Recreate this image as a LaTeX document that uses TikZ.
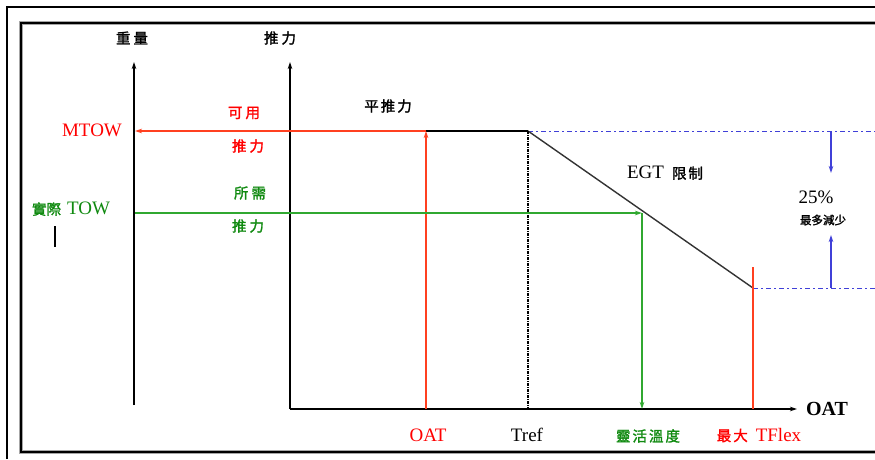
\documentclass[tikz,border=0pt]{standalone}
\usepackage{fontspec}
\setmainfont{Liberation Serif}
\newfontfamily\cjk[FakeBold=1.5]{Noto Sans CJK TC}
\usetikzlibrary{arrows.meta}
\definecolor{rdline}{HTML}{FF4020}
\definecolor{rdtext}{HTML}{FF0000}
\definecolor{gnline}{HTML}{30A830}
\definecolor{gntext}{HTML}{108A10}
\definecolor{blline}{HTML}{4040D8}
\begin{document}
\begin{tikzpicture}[x=1pt,y=-1pt,
  tip/.style={-{Stealth[length=7pt,width=4.5pt]}},
  axisline/.style={black,line width=1.2pt},
  redline/.style={rdline,line width=1.2pt},
  greenline/.style={gnline,line width=1.3pt},
  blueline/.style={blline,line width=1pt,dash pattern=on 5pt off 3pt on 2pt off 3pt},
  lat/.style={font=\fontsize{19}{22}\selectfont,inner sep=0pt},
  cjkl/.style={font=\cjk\fontsize{14.5}{16}\selectfont,inner sep=0pt},
  cjks/.style={font=\cjk\fontsize{11.5}{13}\selectfont,inner sep=0pt}]
\useasboundingbox (0,0) rectangle (875,459);
\fill[white] (0,0) rectangle (875,459);
% frames
\draw[black,line width=2pt] (7,459) -- (7,7) -- (875,7);
\draw[gray!70,line width=4pt] (875,23) -- (21,23) -- (21,452) -- (875,452);
\draw[black,line width=2.4pt] (875,23) -- (21,23) -- (21,452) -- (875,452);
% coordinates
\coordinate (wb) at (134,405);
\coordinate (wt) at (134,62);
\coordinate (o) at (290,409);
\coordinate (tt) at (290,62);
\coordinate (xe) at (797,409);
\coordinate (oatb) at (426,409);
\coordinate (oatt) at (426,131);
\coordinate (mtow) at (135,131);
\coordinate (tref) at (528,131);
\coordinate (trefb) at (528,409);
\coordinate (egt) at (753,288);
\coordinate (flexb) at (753,409);
\coordinate (flext) at (753,267);
\coordinate (gp) at (642,213);
\coordinate (gb) at (642,409);
\coordinate (tow) at (135,213);
\coordinate (rt) at (875,131);
\coordinate (rb) at (875,288);
\coordinate (ba) at (831,131);
\coordinate (baa) at (831,173);
\coordinate (bb) at (831,288);
\coordinate (bbb) at (831,235);
\coordinate (cur1) at (55,226);
\coordinate (cur2) at (55,247);
% axes
\draw[axisline,tip] (wb) -- (wt);
\draw[axisline,tip] (o) -- (tt);
\draw[axisline,tip] (o) -- (xe);
% blue dashed
\draw[blueline] (tref) -- (rt);
\draw[blueline] (egt) -- (rb);
\draw[blline,line width=1.2pt,tip] (ba) -- (baa);
\draw[blline,line width=1.2pt,tip] (bb) -- (bbb);
% thrust curve
\draw[black,line width=1.5pt] (oatt) -- (tref);
\draw[black!80,line width=1.4pt] (tref) -- (egt);
% Tref line
\draw[black,line width=2pt,dash pattern=on 3pt off 1pt on 1pt off 1pt] (tref) -- (trefb);
% red lines
\draw[redline,tip] (oatb) -- (oatt);
\draw[redline,tip] (oatt) -- (mtow);
\draw[redline] (flexb) -- (flext);
% green lines
\draw[greenline,tip] (tow) -- (gp);
\draw[greenline,tip] (gp) -- (gb);
% cursor bar
\draw[black,line width=2pt] (cur1) -- (cur2);
% labels
\node[cjkl] (lw) at (132,38) {重\hspace{3pt}量};
\node[cjkl] (lt) at (280,38) {推\hspace{3pt}力};
\node[lat,text=rdtext] (lmtow) at (92,130) {MTOW};
\node[cjkl,text=rdtext] (lav1) at (244,113) {可\hspace{3pt}用};
\node[cjkl,text=rdtext] (lav2) at (248,146) {推\hspace{3pt}力};
\node[cjkl] (lflat) at (388,106) {平\hspace{2pt}推\hspace{2pt}力};
\node[cjkl,text=gntext] (lrq1) at (250,193) {所\hspace{3pt}需};
\node[cjkl,text=gntext] (lrq2) at (248,226) {推\hspace{3pt}力};
\node[inner sep=0pt,text=gntext] (ltow) at (71,209) {{\cjk\fontsize{14.5}{16}\selectfont 實際}\hspace{6pt}{\fontsize{19}{22}\selectfont TOW}};
\node[inner sep=0pt] (legt) at (665,173) {{\fontsize{19}{22}\selectfont EGT}\hspace{8pt}{\cjk\fontsize{14.5}{16}\selectfont 限\hspace{2pt}制}};
\node[lat] (l25) at (816,197) {25\%};
\node[cjks] (lmax) at (823,220) {最多減少};
\node[font=\bfseries\fontsize{20}{23}\selectfont,inner sep=0pt] (loat) at (827,409) {OAT};
\node[lat,text=rdtext] (boat) at (428,435) {OAT};
\node[lat] (btref) at (527,435) {Tref};
\node[cjkl,text=gntext] (bflex) at (648,436) {靈\hspace{2pt}活\hspace{2pt}溫\hspace{2pt}度};
\node[inner sep=0pt,text=rdtext] (bmax) at (759,435) {{\cjk\fontsize{14.5}{16}\selectfont 最\hspace{2pt}大}\hspace{8pt}{\fontsize{19}{22}\selectfont TFlex}};
\end{tikzpicture}
\end{document}
